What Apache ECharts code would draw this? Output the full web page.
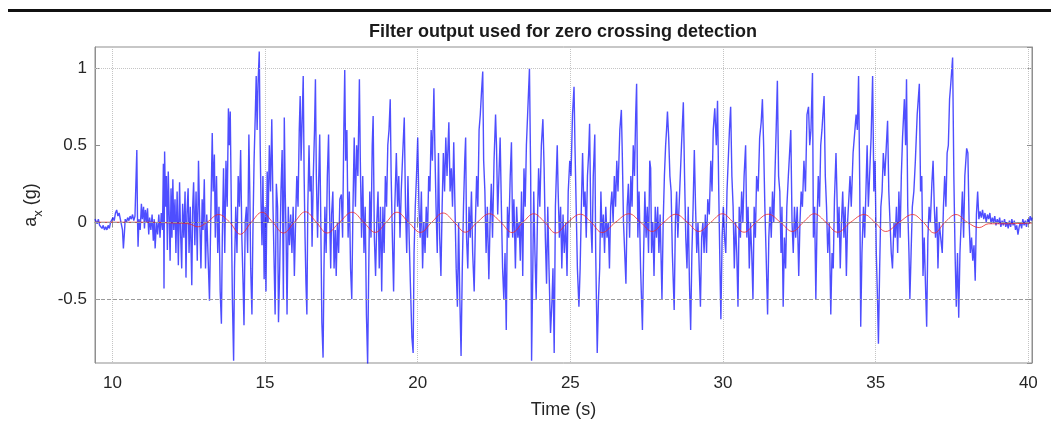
<!DOCTYPE html>
<html>
<head>
<meta charset="utf-8">
<script src="https://cdn.jsdelivr.net/npm/echarts@6/dist/echarts.min.js"></script>
<style>
html, body { margin: 0; padding: 0; background: #fff; }
#chart { width: 1051px; height: 428px; }
</style>
</head>
<body>
<div id="chart"></div>
<script>
// axis ranges
const timeRange = [9.43, 40.12]
const accRange = [-0.915, 1.139]
const gridLevels = [1, 0, -0.5]

// measured a_x signal (blue), [time s, g]
const axSignal = [
	[9.43,0.02],[9.47,0.01],[9.5,-0.01],[9.54,0.02],[9.58,-0.02],[9.62,-0.01],[9.66,-0.04],[9.7,-0.02],[9.74,-0.05],[9.78,-0.03],
	[9.82,-0.05],[9.86,-0.02],[9.9,-0.04],[9.94,0.0],[9.98,0.01],[10.02,0.03],[10.06,0.01],[10.1,0.06],[10.14,0.08],[10.18,0.04],
	[10.22,0.06],[10.26,0.02],[10.3,0.03],[10.33,-0.05],[10.36,-0.17],[10.39,-0.08],[10.42,0.02],[10.46,0.0],[10.5,0.03],[10.54,0.01],
	[10.58,0.04],[10.62,0.02],[10.66,0.05],[10.7,0.01],[10.74,0.04],[10.78,0.03],[10.8,0.47],[10.82,0.05],[10.84,-0.16],[10.87,0.02],
	[10.91,-0.05],[10.95,0.12],[10.98,0.02],[11.02,0.1],[11.05,-0.04],[11.08,0.08],[11.12,0.0],[11.15,0.09],[11.19,-0.08],[11.22,0.03],
	[11.26,-0.05],[11.3,0.05],[11.34,-0.12],[11.37,0.02],[11.4,-0.17],[11.44,0.0],[11.48,-0.08],[11.52,0.05],[11.56,-0.1],[11.6,0.06],
	[11.64,-0.05],[11.67,0.38],[11.69,-0.43],[11.71,0.46],[11.74,0.1],[11.77,0.3],[11.8,-0.18],[11.83,0.33],[11.86,0.05],[11.89,-0.25],
	[11.92,0.22],[11.95,-0.1],[11.98,0.28],[12.01,-0.05],[12.05,0.15],[12.08,-0.2],[12.12,0.2],[12.16,-0.28],[12.2,0.26],[12.23,-0.05],
	[12.27,-0.3],[12.3,0.12],[12.34,-0.1],[12.38,0.2],[12.41,-0.36],[12.44,0.05],[12.48,0.22],[12.51,-0.2],[12.55,0.1],[12.6,-0.41],
	[12.63,0.1],[12.66,0.26],[12.7,-0.15],[12.74,0.2],[12.78,-0.25],[12.82,0.4],[12.85,0.1],[12.9,-0.3],[12.94,0.15],[12.97,-0.05],
	[13.01,0.28],[13.05,-0.3],[13.09,0.05],[13.13,-0.2],[13.18,-0.51],[13.22,0.0],[13.27,0.58],[13.3,0.2],[13.34,0.44],[13.37,-0.1],
	[13.41,0.3],[13.45,-0.2],[13.49,0.1],[13.53,-0.45],[13.57,-0.66],[13.6,-0.1],[13.64,0.35],[13.68,-0.2],[13.72,0.4],[13.76,0.1],
	[13.8,0.74],[13.83,0.5],[13.86,0.72],[13.9,0.0],[13.93,-0.5],[13.97,-0.9],[14.0,-0.3],[14.04,0.1],[14.08,-0.2],[14.12,0.3],
	[14.16,0.1],[14.2,0.47],[14.24,-0.1],[14.28,-0.4],[14.31,-0.67],[14.35,0.0],[14.39,0.1],[14.43,-0.2],[14.47,0.57],[14.5,0.2],
	[14.53,-0.3],[14.57,-0.6],[14.6,-0.1],[14.64,0.4],[14.68,0.7],[14.71,0.95],[14.74,0.6],[14.77,0.9],[14.81,1.11],[14.84,0.5],
	[14.87,0.1],[14.9,-0.15],[14.93,0.3],[14.97,-0.37],[15.0,0.1],[15.03,-0.45],[15.07,0.33],[15.1,0.0],[15.14,0.5],[15.18,0.2],
	[15.22,0.67],[15.26,0.1],[15.3,-0.3],[15.33,-0.6],[15.37,0.25],[15.41,0.1],[15.44,-0.65],[15.48,-0.3],[15.52,0.2],[15.56,0.47],
	[15.6,-0.5],[15.63,0.68],[15.66,0.2],[15.69,-0.1],[15.72,-0.6],[15.76,0.1],[15.8,-0.15],[15.84,0.05],[15.88,-0.2],[15.92,0.1],
	[15.96,-0.35],[16.0,0.0],[16.04,0.3],[16.08,0.1],[16.12,0.6],[16.15,0.82],[16.18,0.4],[16.22,0.7],[16.25,0.95],[16.28,0.3],
	[16.31,-0.1],[16.34,-0.4],[16.37,-0.6],[16.4,0.1],[16.44,0.5],[16.47,0.2],[16.51,0.3],[16.54,-0.16],[16.58,0.3],[16.62,0.6],
	[16.65,0.93],[16.68,0.3],[16.72,-0.1],[16.75,0.2],[16.79,0.57],[16.82,0.1],[16.86,-0.65],[16.9,-0.88],[16.93,-0.3],[16.96,0.1],
	[17.0,-0.2],[17.04,0.3],[17.08,0.57],[17.11,0.1],[17.15,-0.3],[17.18,0.05],[17.22,0.2],[17.26,-0.3],[17.3,-0.05],[17.33,-0.35],
	[17.37,0.0],[17.41,-0.2],[17.45,0.15],[17.5,0.18],[17.54,-0.1],[17.58,0.6],[17.61,0.99],[17.64,0.4],[17.68,0.6],[17.72,-0.1],
	[17.76,0.2],[17.8,-0.3],[17.84,-0.5],[17.88,0.1],[17.92,0.55],[17.96,0.1],[18.0,0.5],[18.04,0.3],[18.09,0.93],[18.12,0.4],
	[18.16,-0.1],[18.2,0.3],[18.24,-0.2],[18.28,0.1],[18.32,-0.6],[18.36,-0.92],[18.39,-0.4],[18.43,0.2],[18.47,-0.1],[18.51,0.5],
	[18.54,0.69],[18.58,-0.1],[18.62,-0.35],[18.66,0.0],[18.7,0.2],[18.74,-0.3],[18.78,0.1],[18.82,-0.45],[18.86,0.1],[18.9,-0.2],
	[18.94,0.3],[18.98,0.1],[19.02,0.5],[19.06,0.6],[19.1,0.8],[19.13,0.3],[19.17,-0.1],[19.21,-0.45],[19.25,0.1],[19.3,0.45],
	[19.34,0.1],[19.38,0.3],[19.42,-0.1],[19.46,0.2],[19.5,0.4],[19.56,0.68],[19.6,0.1],[19.64,-0.2],[19.68,0.3],[19.72,-0.1],
	[19.76,-0.4],[19.81,-0.75],[19.85,-0.85],[19.88,-0.2],[19.92,0.1],[19.96,0.3],[20.0,0.55],[20.04,0.1],[20.08,-0.1],[20.12,0.2],
	[20.16,-0.3],[20.2,0.0],[20.24,-0.2],[20.28,0.1],[20.32,-0.1],[20.36,0.3],[20.4,0.2],[20.44,0.6],[20.48,0.4],[20.53,0.87],
	[20.56,0.5],[20.6,0.1],[20.64,-0.2],[20.68,0.45],[20.72,-0.1],[20.76,-0.35],[20.8,0.1],[20.84,0.45],[20.88,0.2],[20.92,0.55],
	[20.96,0.3],[21.02,0.65],[21.06,0.2],[21.1,0.35],[21.14,0.1],[21.18,0.52],[21.22,0.1],[21.26,-0.3],[21.3,-0.55],[21.34,0.0],
	[21.38,-0.5],[21.42,-0.87],[21.46,-0.3],[21.5,0.1],[21.54,0.4],[21.57,0.55],[21.6,-0.1],[21.64,-0.3],[21.68,0.1],[21.72,-0.1],
	[21.76,0.2],[21.8,-0.2],[21.85,-0.45],[21.89,0.0],[21.93,0.3],[21.97,0.1],[22.01,0.6],[22.05,0.7],[22.09,0.85],[22.13,0.98],
	[22.16,0.4],[22.2,0.2],[22.24,-0.2],[22.28,0.1],[22.33,-0.37],[22.37,0.0],[22.41,0.25],[22.45,-0.1],[22.5,0.4],[22.55,0.7],
	[22.58,0.5],[22.62,0.05],[22.66,0.3],[22.7,0.55],[22.74,0.1],[22.78,-0.3],[22.82,-0.5],[22.86,-0.2],[22.9,-0.7],[22.94,0.1],
	[22.98,-0.1],[23.03,0.3],[23.07,0.52],[23.11,-0.1],[23.15,0.15],[23.2,-0.3],[23.24,0.1],[23.28,-0.1],[23.32,0.0],[23.36,-0.25],
	[23.4,0.2],[23.44,-0.35],[23.48,0.35],[23.52,0.1],[23.56,0.5],[23.6,0.7],[23.66,1.0],[23.7,0.3],[23.73,-0.9],[23.77,-0.3],
	[23.8,0.2],[23.84,-0.2],[23.88,-0.5],[23.92,0.0],[23.96,0.35],[24.0,0.1],[24.05,0.5],[24.1,0.67],[24.14,0.35],[24.18,-0.1],
	[24.22,-0.4],[24.26,0.1],[24.3,-0.3],[24.35,-0.72],[24.4,-0.5],[24.43,-0.3],[24.47,-0.85],[24.51,0.1],[24.57,0.5],[24.6,0.2],
	[24.64,-0.1],[24.68,0.1],[24.72,-0.3],[24.76,0.05],[24.8,-0.2],[24.85,0.0],[24.89,-0.35],[24.93,0.2],[24.98,0.4],[25.02,0.3],
	[25.07,0.7],[25.12,0.88],[25.15,0.5],[25.19,0.1],[25.23,-0.3],[25.28,-0.55],[25.32,-0.3],[25.36,0.1],[25.4,0.45],[25.44,0.1],
	[25.48,0.2],[25.52,-0.1],[25.56,0.3],[25.6,0.45],[25.63,0.64],[25.67,0.0],[25.71,-0.2],[25.75,0.3],[25.8,0.57],[25.83,-0.2],
	[25.88,-0.85],[25.92,-0.5],[25.96,-0.3],[26.0,0.2],[26.04,-0.1],[26.08,0.05],[26.12,-0.2],[26.16,0.1],[26.2,-0.1],[26.24,0.0],
	[26.28,-0.3],[26.32,0.1],[26.36,0.2],[26.4,0.0],[26.44,0.3],[26.48,0.1],[26.52,0.4],[26.56,0.2],[26.62,0.6],[26.67,0.73],
	[26.7,0.45],[26.74,0.0],[26.78,-0.2],[26.82,-0.4],[26.86,0.1],[26.9,0.25],[26.94,-0.1],[26.98,0.3],[27.02,0.1],[27.06,0.5],
	[27.1,0.3],[27.14,0.7],[27.17,0.9],[27.21,-0.1],[27.25,0.2],[27.3,-0.3],[27.36,-0.7],[27.4,-0.2],[27.44,0.2],[27.48,-0.1],
	[27.52,0.1],[27.56,-0.2],[27.6,0.4],[27.63,0.35],[27.66,-0.2],[27.7,0.0],[27.74,-0.35],[27.78,0.1],[27.82,-0.1],[27.86,0.1],
	[27.9,-0.2],[27.94,0.05],[28.0,-0.5],[28.04,0.0],[28.08,0.3],[28.12,0.5],[28.15,0.6],[28.18,0.72],[28.22,0.55],[28.26,0.3],
	[28.3,0.2],[28.34,-0.2],[28.4,-0.57],[28.44,0.0],[28.48,0.2],[28.52,-0.1],[28.56,0.1],[28.6,0.3],[28.64,0.5],[28.7,0.78],
	[28.74,0.3],[28.78,-0.1],[28.82,-0.3],[28.86,0.1],[28.9,-0.4],[28.94,-0.7],[28.98,-0.2],[29.02,0.1],[29.06,0.47],[29.1,0.1],
	[29.14,-0.2],[29.18,0.0],[29.22,-0.3],[29.26,-0.55],[29.3,-0.1],[29.34,0.0],[29.38,-0.2],[29.42,0.05],[29.46,-0.2],[29.5,0.15],
	[29.55,0.05],[29.6,0.4],[29.64,0.2],[29.68,0.6],[29.73,0.74],[29.78,0.5],[29.82,0.79],[29.86,0.2],[29.9,-0.3],[29.93,-0.63],
	[29.97,-0.1],[30.01,0.1],[30.05,-0.1],[30.09,-0.2],[30.13,0.2],[30.17,0.4],[30.21,0.6],[30.25,0.75],[30.29,0.3],[30.33,0.1],
	[30.37,-0.3],[30.41,0.0],[30.45,-0.2],[30.49,-0.55],[30.53,0.1],[30.57,-0.1],[30.61,0.2],[30.65,0.0],[30.69,0.3],[30.74,0.5],
	[30.78,-0.1],[30.82,0.1],[30.86,-0.3],[30.9,0.0],[30.94,-0.2],[30.98,-0.5],[31.02,0.1],[31.06,-0.1],[31.1,0.3],[31.15,0.2],
	[31.2,0.55],[31.25,0.65],[31.29,0.8],[31.33,0.5],[31.37,0.1],[31.41,-0.2],[31.46,-0.6],[31.5,-0.1],[31.54,0.1],[31.58,-0.1],
	[31.62,0.2],[31.66,0.0],[31.7,0.3],[31.74,0.6],[31.78,0.92],[31.82,0.3],[31.86,0.2],[31.9,-0.2],[31.93,0.1],[31.97,-0.55],
	[32.01,-0.1],[32.05,-0.3],[32.09,0.1],[32.14,0.3],[32.18,0.45],[32.22,0.6],[32.26,0.0],[32.3,-0.2],[32.34,0.1],[32.38,-0.1],
	[32.43,0.1],[32.48,-0.35],[32.52,0.0],[32.56,0.2],[32.6,0.1],[32.65,0.4],[32.7,0.2],[32.75,0.7],[32.8,0.75],[32.84,0.5],
	[32.88,0.6],[32.93,0.97],[32.96,-0.1],[33.0,0.1],[33.04,-0.5],[33.08,0.0],[33.12,0.3],[33.16,0.1],[33.2,0.5],[33.24,0.6],
	[33.31,0.82],[33.35,0.3],[33.39,0.1],[33.43,-0.2],[33.48,0.0],[33.53,-0.6],[33.57,-0.2],[33.61,-0.3],[33.65,0.15],[33.7,0.45],
	[33.73,0.2],[33.76,-0.1],[33.8,0.1],[33.84,-0.3],[33.88,0.0],[33.92,0.2],[33.96,-0.1],[34.0,0.1],[34.04,-0.35],[34.08,0.0],
	[34.12,0.15],[34.16,0.3],[34.2,0.1],[34.26,0.45],[34.32,0.6],[34.36,0.7],[34.4,0.6],[34.44,0.95],[34.48,0.2],[34.51,-0.68],
	[34.55,-0.2],[34.6,0.1],[34.64,-0.1],[34.68,0.2],[34.72,0.5],[34.76,0.1],[34.8,0.3],[34.85,0.55],[34.9,0.95],[34.94,0.2],
	[34.98,0.4],[35.02,-0.2],[35.06,-0.5],[35.09,-0.79],[35.13,-0.3],[35.17,0.1],[35.21,0.2],[35.25,0.45],[35.3,0.3],[35.35,0.5],
	[35.39,0.66],[35.43,0.2],[35.47,0.0],[35.51,-0.2],[35.55,-0.3],[35.6,0.0],[35.64,-0.1],[35.68,0.1],[35.72,-0.2],[35.76,0.2],
	[35.8,-0.1],[35.84,0.3],[35.88,0.55],[35.94,0.8],[35.98,0.5],[36.01,0.93],[36.05,0.1],[36.09,-0.2],[36.12,-0.5],[36.16,-0.2],
	[36.2,0.1],[36.25,0.2],[36.3,0.4],[36.36,0.7],[36.43,0.9],[36.47,0.2],[36.51,0.3],[36.55,-0.35],[36.59,-0.1],[36.63,-0.4],
	[36.67,-0.68],[36.71,-0.1],[36.75,0.1],[36.79,0.0],[36.84,0.25],[36.88,0.4],[36.92,0.1],[36.96,-0.1],[37.0,0.1],[37.04,-0.3],
	[37.08,0.0],[37.13,-0.1],[37.18,-0.2],[37.22,0.1],[37.26,0.3],[37.3,0.1],[37.34,0.45],[37.38,0.5],[37.42,0.8],[37.46,0.9],
	[37.52,1.07],[37.56,0.3],[37.6,-0.2],[37.64,-0.55],[37.68,-0.2],[37.72,-0.62],[37.76,-0.2],[37.8,0.0],[37.84,0.2],[37.88,-0.1],
	[37.92,0.3],[37.98,0.48],[38.02,0.45],[38.06,0.0],[38.1,-0.2],[38.14,-0.1],[38.18,-0.25],[38.22,-0.15],[38.26,-0.38],[38.3,0.05],
	[38.34,0.2],[38.38,0.02],[38.42,0.07],[38.46,0.03],[38.5,0.08],[38.54,0.02],[38.58,0.06],[38.62,0.0],[38.66,0.05],[38.7,0.02],
	[38.74,0.06],[38.78,-0.01],[38.82,0.03],[38.86,0.0],[38.9,0.04],[38.94,-0.02],[38.98,0.02],[39.02,-0.01],[39.06,0.03],[39.1,-0.03],
	[39.14,0.01],[39.18,-0.02],[39.22,0.02],[39.26,-0.03],[39.3,0.0],[39.34,-0.04],[39.38,0.01],[39.42,-0.03],[39.46,0.02],[39.5,-0.02],
	[39.54,0.01],[39.58,-0.05],[39.62,-0.02],[39.66,-0.08],[39.7,-0.03],[39.74,0.0],[39.78,-0.04],[39.82,0.02],[39.86,-0.02],[39.9,0.01],
	[39.94,-0.03],[39.98,0.02],[40.02,-0.01],[40.06,0.04],[40.1,0.01],[40.12,0.03]
]

// filter output (red), extrema and zero crossings, [time s, g]
const filterOut = [
	[9.43,0.0],[11.0,0.0],[12.0,-0.005],[12.5,-0.01],[12.8,-0.03],[13.1,0.0],[13.48,0.05],[13.84,0.0],[14.19,-0.078],[14.55,0.0],
	[14.9,0.065],[15.25,0.0],[15.6,-0.07],[15.96,0.0],[16.32,0.068],[16.68,0.0],[17.03,-0.07],[17.44,0.0],[17.85,0.065],[18.23,0.0],
	[18.61,-0.066],[18.97,0.0],[19.32,0.065],[19.7,0.0],[20.09,-0.066],[20.46,0.0],[20.83,0.06],[21.2,0.0],[21.56,-0.065],[21.95,0.0],
	[22.35,0.055],[22.72,0.0],[23.09,-0.067],[23.45,0.0],[23.8,0.055],[24.16,0.0],[24.52,-0.07],[24.92,0.0],[25.33,0.052],[25.68,0.0],
	[26.04,-0.067],[26.48,0.0],[26.92,0.055],[27.3,0.0],[27.68,-0.06],[28.06,0.0],[28.45,0.052],[28.83,0.0],[29.21,-0.06],[29.6,0.0],
	[29.98,0.055],[30.33,0.0],[30.69,-0.065],[31.08,0.0],[31.48,0.052],[31.88,0.0],[32.27,-0.06],[32.63,0.0],[32.99,0.055],[33.37,0.0],
	[33.75,-0.065],[34.18,0.0],[34.62,0.05],[34.97,0.0],[35.33,-0.06],[35.77,0.0],[36.21,0.05],[36.56,0.0],[36.92,-0.07],[37.27,0.0],
	[37.63,0.05],[38.0,0.0],[38.39,-0.035],[38.7,-0.01],[39.2,-0.01],[40.12,-0.005]
]

const chart = echarts.init(document.getElementById("chart"))
const font = "Liberation Sans, Arial, sans-serif"
const txt = "#262626"
const frame = "#8f8f8f"

let option = {
	backgroundColor: "#fff",
	animation: false,
	graphic: [
		{
			type: "rect",
			shape: { x: 8, y: 9, width: 1043, height: 3 },
			style: { fill: "#111" }
		}
	],
	title: {
		text: "Filter output used for zero crossing detection",
		left: 558,
		top: 18,
		textAlign: "center",
		textStyle: { fontFamily: font, fontSize: 18, fontWeight: "bold", color: "#1a1a1a" }
	},
	grid: {
		left: 95,
		right: 19,
		top: 47,
		bottom: 65,
		show: true,
		borderColor: frame,
		borderWidth: 1
	},
	xAxis: [
		{
			type: "value",
			min: timeRange[0],
			max: timeRange[1],
			splitNumber: 6,
			axisLine: { show: true, lineStyle: { color: frame } },
			axisTick: { inside: true, length: 5, lineStyle: { color: frame } },
			axisLabel: {
				color: txt,
				fontSize: 17,
				fontFamily: font,
				margin: 12,
				showMinLabel: false,
				showMaxLabel: false
			},
			splitLine: { show: true, lineStyle: { color: "#c4c4c4", type: "dotted" } },
			name: "Time (s)",
			nameLocation: "middle",
			nameGap: 38,
			nameTextStyle: { color: txt, fontSize: 18, fontFamily: font }
		},
		{
			type: "value",
			position: "top",
			min: timeRange[0],
			max: timeRange[1],
			splitNumber: 6,
			axisLine: { show: true, lineStyle: { color: frame } },
			axisTick: { inside: true, length: 5, lineStyle: { color: frame } },
			axisLabel: { show: false },
			splitLine: { show: false }
		}
	],
	yAxis: [
		{
			type: "value",
			min: accRange[0],
			max: accRange[1],
			splitNumber: 4,
			axisLine: { show: true, lineStyle: { color: frame } },
			axisTick: { show: true, inside: true, length: 5, lineStyle: { color: frame } },
			axisLabel: {
				color: txt,
				fontSize: 17,
				fontFamily: font,
				margin: 8,
				showMinLabel: false,
				showMaxLabel: false
			},
			splitLine: { show: false },
			name: "{n|a}{s|x}{n| (g)}",
			nameLocation: "middle",
			nameGap: 50,
			nameTextStyle: {
				rich: {
					n: { fontSize: 18, fontFamily: font, color: txt, lineHeight: 28 },
					s: { fontSize: 13, fontFamily: font, color: txt, lineHeight: 28, verticalAlign: "bottom" }
				}
			}
		},
		{
			type: "value",
			position: "right",
			min: accRange[0],
			max: accRange[1],
			splitNumber: 4,
			axisLine: { show: true, lineStyle: { color: frame } },
			axisTick: { show: true, inside: true, length: 5, lineStyle: { color: frame } },
			axisLabel: { show: false },
			splitLine: { show: false }
		}
	],
	series: [
		{
			name: "a_x",
			type: "line",
			data: axSignal,
			showSymbol: false,
			symbol: "none",
			lineStyle: { color: "rgba(10,10,255,0.72)", width: 1.4 },
			z: 2,
			markLine: {
				silent: true,
				symbol: "none",
				label: { show: false },
				data: gridLevels.map(v => ({
					yAxis: v,
					lineStyle: {
						color: v === 1 ? "#c4c4c4" : "#9a9a9a",
						type: v === 1 ? "dotted" : "dashed",
						width: 1
					}
				}))
			}
		},
		{
			name: "filter",
			type: "line",
			data: filterOut,
			showSymbol: false,
			symbol: "none",
			smooth: 0.4,
			lineStyle: { color: "rgba(235,40,40,0.8)", width: 1 },
			z: 3
		}
	]
}

chart.setOption(option)
</script>
</body>
</html>
